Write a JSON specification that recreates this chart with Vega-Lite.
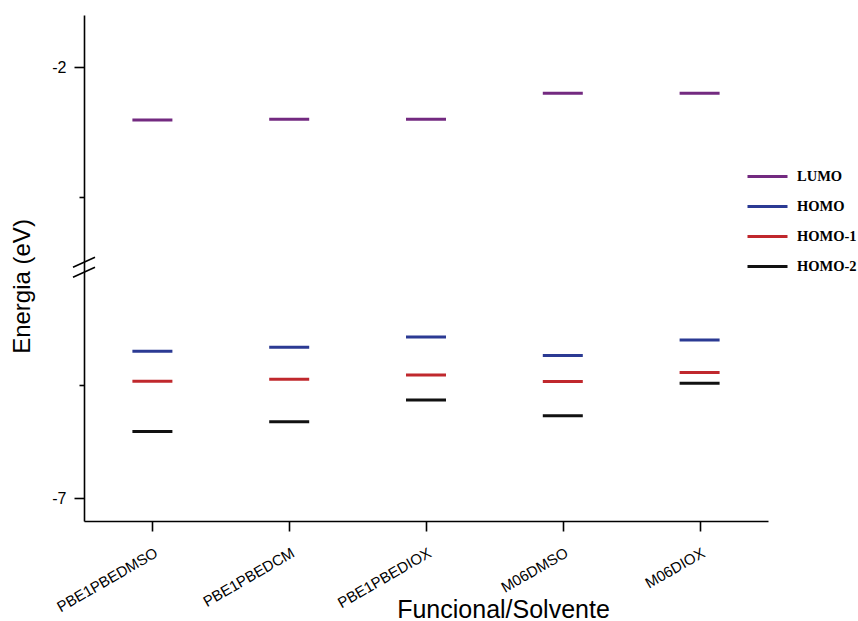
{
  "$schema": "https://vega.github.io/schema/vega-lite/v6.json",
  "width": 684,
  "height": 506,
  "autosize": {"type": "none"},
  "padding": {"left": 84, "top": 15, "right": 90, "bottom": 100},
  "background": "white",
  "config": {
    "view": {"stroke": null},
    "axis": {
      "grid": false,
      "domainColor": "#000",
      "domainWidth": 1.6,
      "tickColor": "#000",
      "tickWidth": 1.6,
      "labelColor": "#000",
      "titleColor": "#000",
      "labelFont": "Liberation Sans",
      "titleFont": "Liberation Sans",
      "titleFontWeight": "normal"
    }
  },
  "datasets": {
    "levels": [
      {"Funcional": "PBE1PBEDMSO", "Orbital": "LUMO", "Energia": -2.405},
      {"Funcional": "PBE1PBEDMSO", "Orbital": "HOMO", "Energia": -5.70},
      {"Funcional": "PBE1PBEDMSO", "Orbital": "HOMO-1", "Energia": -5.965},
      {"Funcional": "PBE1PBEDMSO", "Orbital": "HOMO-2", "Energia": -6.41},
      {"Funcional": "PBE1PBEDCM", "Orbital": "LUMO", "Energia": -2.40},
      {"Funcional": "PBE1PBEDCM", "Orbital": "HOMO", "Energia": -5.665},
      {"Funcional": "PBE1PBEDCM", "Orbital": "HOMO-1", "Energia": -5.947},
      {"Funcional": "PBE1PBEDCM", "Orbital": "HOMO-2", "Energia": -6.324},
      {"Funcional": "PBE1PBEDIOX", "Orbital": "LUMO", "Energia": -2.40},
      {"Funcional": "PBE1PBEDIOX", "Orbital": "HOMO", "Energia": -5.574},
      {"Funcional": "PBE1PBEDIOX", "Orbital": "HOMO-1", "Energia": -5.909},
      {"Funcional": "PBE1PBEDIOX", "Orbital": "HOMO-2", "Energia": -6.132},
      {"Funcional": "M06DMSO", "Orbital": "LUMO", "Energia": -2.20},
      {"Funcional": "M06DMSO", "Orbital": "HOMO", "Energia": -5.738},
      {"Funcional": "M06DMSO", "Orbital": "HOMO-1", "Energia": -5.967},
      {"Funcional": "M06DMSO", "Orbital": "HOMO-2", "Energia": -6.271},
      {"Funcional": "M06DIOX", "Orbital": "LUMO", "Energia": -2.20},
      {"Funcional": "M06DIOX", "Orbital": "HOMO", "Energia": -5.600},
      {"Funcional": "M06DIOX", "Orbital": "HOMO-1", "Energia": -5.888},
      {"Funcional": "M06DIOX", "Orbital": "HOMO-2", "Energia": -5.982}
    ]
  },
  "layer": [
    {
      "data": {"name": "levels"},
      "mark": {"type": "tick", "size": 40, "thickness": 3, "opacity": 1},
      "encoding": {
        "x": {
          "field": "Funcional",
          "type": "nominal",
          "sort": ["PBE1PBEDMSO", "PBE1PBEDCM", "PBE1PBEDIOX", "M06DMSO", "M06DIOX"],
          "scale": {"type": "point", "padding": 0.5},
          "axis": {
            "title": "Funcional/Solvente",
            "titleFontSize": 25,
            "titleX": 419,
            "titleY": 96,
            "titleBaseline": "alphabetic",
            "titleAlign": "center",
            "labelAngle": -30,
            "labelAlign": "right",
            "labelBaseline": "top",
            "labelPadding": 14,
            "labelFontSize": 15,
            "labelLimit": 300,
            "tickSize": 10
          }
        },
        "y": {
          "field": "Energia",
          "type": "quantitative",
          "scale": {
            "domain": [-7.2, -5, -3.5, -1.6],
            "range": [506, 257, 247.6, 0],
            "nice": false,
            "zero": false
          },
          "axis": {
            "title": "Energia (eV)",
            "titleFontSize": 24,
            "titlePadding": 17,
            "titleY": 271,
            "values": [-7, -6, -3, -2],
            "labelExpr": "datum.value == -2 ? '-2' : datum.value == -7 ? '-7' : ''",
            "labelFontSize": 16,
            "labelPadding": 8,
            "tickSize": {"condition": {"test": "datum.value == -2 || datum.value == -7", "value": 10}, "value": 5}
          }
        },
        "color": {
          "field": "Orbital",
          "type": "nominal",
          "scale": {
            "domain": ["LUMO", "HOMO", "HOMO-1", "HOMO-2"],
            "range": ["#732A80", "#2B3A93", "#C0282D", "#111111"]
          },
          "legend": {
            "title": null,
            "orient": "none",
            "legendX": 662,
            "legendY": 140,
            "symbolType": "stroke",
            "symbolSize": 1600,
            "symbolStrokeWidth": 3,
            "symbolOpacity": 1,
            "labelFont": "Liberation Serif",
            "labelFontWeight": "bold",
            "labelFontSize": 14.5,
            "labelColor": "#000",
            "labelOffset": 8,
            "rowPadding": 2,
            "encode": {
              "symbols": {
                "update": {
                  "stroke": {"scale": "color", "field": "value"},
                  "strokeWidth": {"value": 3},
                  "opacity": {"value": 1}
                }
              }
            }
          }
        }
      }
    },
    {
      "data": {"values": [{}]},
      "mark": {
        "type": "point",
        "shape": "M-1,0L1,-0.91M-1,0.91L1,0",
        "filled": false,
        "stroke": "#000",
        "strokeWidth": 1.6,
        "size": 484,
        "opacity": 1
      },
      "encoding": {
        "x": {"datum": 0, "type": "quantitative", "scale": {"domain": [0, 1]}, "axis": null},
        "y": {"datum": -4.25, "type": "quantitative"}
      }
    }
  ],
  "resolve": {"scale": {"x": "independent"}}
}
